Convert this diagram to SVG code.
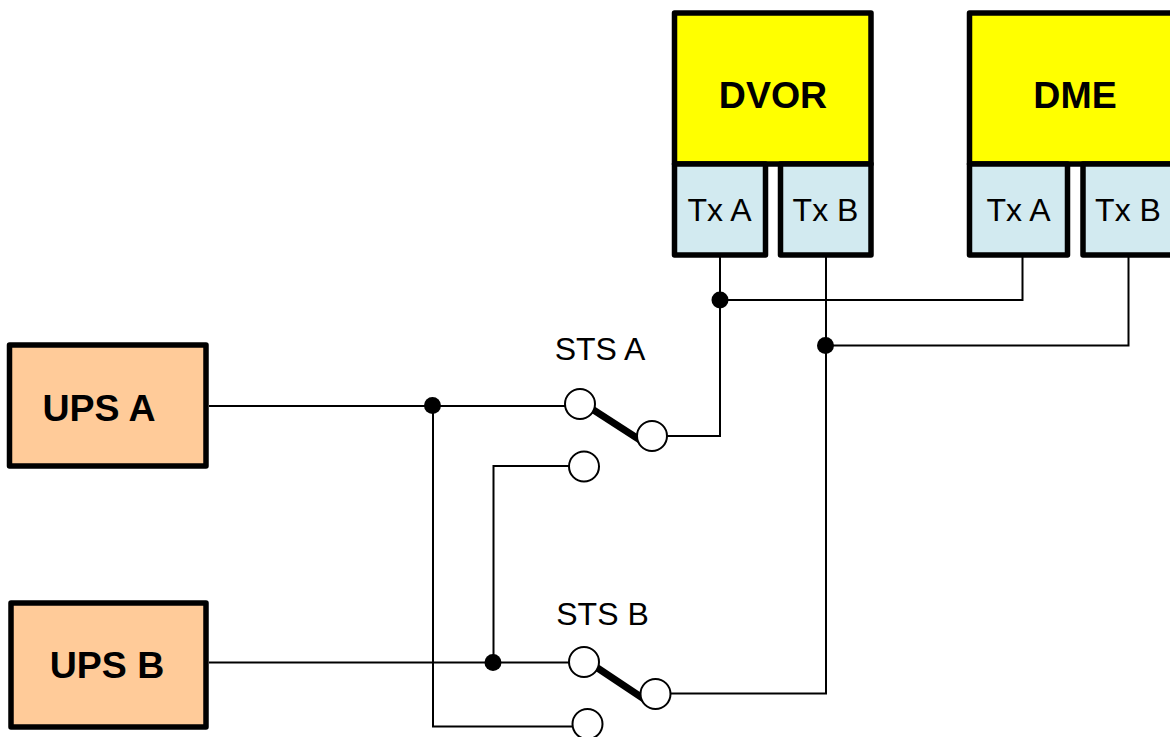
<svg xmlns="http://www.w3.org/2000/svg" width="1170" height="737" viewBox="0 0 1170 737">
<style>
.box{stroke:#000;stroke-width:5.500;stroke-linejoin:round}
.y{fill:#ffff00}.t{fill:#d2eaf0}.o{fill:#ffcb99}
.wire{fill:none;stroke:#000;stroke-width:2}
.arm{stroke:#000;stroke-width:7;fill:none}
.dot{fill:#000}
.pin{fill:#fff;stroke:#000;stroke-width:2}
text{font-family:"Liberation Sans",Arial,sans-serif;fill:#000}
.b{font-weight:bold;font-size:37.500px}
.r{font-size:32px}
.s{font-size:32px}
</style>
<rect width="1170" height="737" fill="#fff"/>
<g id="connectors">
<path class="wire" d="M209 406H566"/>
<path class="wire" d="M433 406V726.500H573"/>
<path class="wire" d="M209 662.500H570"/>
<path class="wire" d="M493.500 662.500V466H570"/>
<path class="wire" d="M666 436H720V255"/>
<path class="wire" d="M720 300H1022.500V255"/>
<path class="wire" d="M669 693.500H826V255"/>
<path class="wire" d="M826 345.500H1128.500V255"/>
<path class="arm" d="M592 409L640 440"/>
<path class="arm" d="M596 667L644 699"/>
<circle class="dot" cx="432.500" cy="405.500" r="8.500"/>
<circle class="dot" cx="493" cy="662.500" r="8.500"/>
<circle class="dot" cx="720" cy="300" r="8.500"/>
<circle class="dot" cx="825.500" cy="345.500" r="8.500"/>
</g>
<g id="dvor"><rect class="box y" x="674.500" y="13" width="196.500" height="151"/><text class="b" x="773" y="108" text-anchor="middle">DVOR</text></g>
<g id="dvor-tx-a"><rect class="box t" x="674.500" y="164" width="91" height="91"/><text class="r" x="719.500" y="221" text-anchor="middle">Tx A</text></g>
<g id="dvor-tx-b"><rect class="box t" x="780.500" y="164" width="90.500" height="91"/><text class="r" x="825.500" y="221" text-anchor="middle">Tx B</text></g>
<g id="dme"><rect class="box y" x="969.500" y="13" width="210" height="151"/><text class="b" x="1075" y="108" text-anchor="middle">DME</text></g>
<g id="dme-tx-a"><rect class="box t" x="969.500" y="164" width="98" height="91"/><text class="r" x="1018.500" y="221" text-anchor="middle">Tx A</text></g>
<g id="dme-tx-b"><rect class="box t" x="1083" y="164" width="96" height="91"/><text class="r" x="1128" y="221" text-anchor="middle">Tx B</text></g>
<g id="ups-a"><rect class="box o" x="9.500" y="345" width="196.500" height="121"/><text class="b" x="99" y="421" text-anchor="middle">UPS A</text></g>
<g id="ups-b"><rect class="box o" x="11" y="603" width="195" height="124"/><text class="b" x="107" y="678" text-anchor="middle">UPS B</text></g>
<g id="sts-a"><text class="s" x="600" y="360" text-anchor="middle">STS A</text><circle class="pin" cx="580" cy="404" r="15"/><circle class="pin" cx="652" cy="436" r="15"/><circle class="pin" cx="584" cy="466.500" r="15"/></g>
<g id="sts-b"><text class="s" x="602.500" y="625" text-anchor="middle">STS B</text><circle class="pin" cx="584" cy="662" r="15"/><circle class="pin" cx="655.500" cy="694" r="15"/><circle class="pin" cx="587.500" cy="724" r="15"/></g>
</svg>
